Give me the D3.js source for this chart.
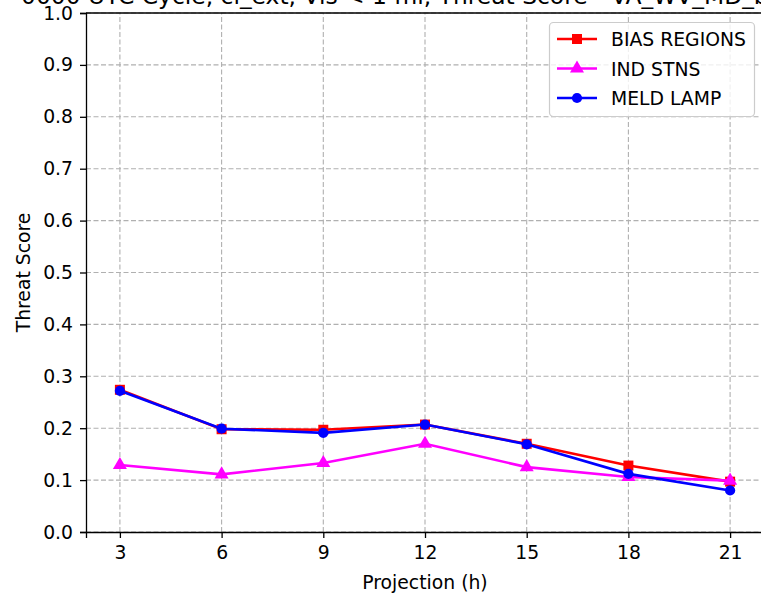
<!DOCTYPE html>
<html>
<head>
<meta charset="utf-8">
<script src="https://cdn.jsdelivr.net/npm/d3@7"></script>
<style>
  body { margin: 0; background: #fff; }
  svg { display: block; font-family: "DejaVu Sans", sans-serif; }
</style>
</head>
<body>
<div id="chart"></div>
<script>
// chart data
var projections = [3, 6, 9, 12, 15, 18, 21];
var biasRegions = [0.274, 0.198, 0.197, 0.207, 0.170, 0.128, 0.097];
var indStns = [0.129, 0.111, 0.133, 0.170, 0.125, 0.106, 0.099];
var meldLamp = [0.272, 0.199, 0.191, 0.207, 0.169, 0.112, 0.080];
var yTicks = [0.0, 0.1, 0.2, 0.3, 0.4, 0.5, 0.6, 0.7, 0.8, 0.9, 1.0];
var seriesNames = ["BIAS REGIONS", "IND STNS", "MELD LAMP"];

var width = 761, height = 593;
var margin = { left: 86, top: 13, right: -3, bottom: 61 };
var fontSize = "18.8px";

var svg = d3.select("#chart").append("svg")
  .attr("width", width)
  .attr("height", height);

var x = d3.scaleLinear().domain([2, 22]).range([margin.left, width - margin.right]);
var y = d3.scaleLinear().domain([0, 1]).range([height - margin.bottom, margin.top]);

// grid
var grid = svg.append("g")
  .attr("stroke", "#b0b0b0")
  .attr("stroke-width", 1.1)
  .attr("stroke-dasharray", "5,2.5");
grid.selectAll(".vg").data(projections).enter().append("line")
  .attr("x1", function (d) { return x(d); }).attr("x2", function (d) { return x(d); })
  .attr("y1", y(0)).attr("y2", y(1));
grid.selectAll(".hg").data(yTicks).enter().append("line")
  .attr("x1", x(2)).attr("x2", x(22))
  .attr("y1", function (d) { return y(d); }).attr("y2", function (d) { return y(d); });

// axes
var xAxis = svg.append("g")
  .attr("transform", "translate(0," + y(0) + ")")
  .call(d3.axisBottom(x).tickValues(projections).tickSize(6).tickPadding(8));
var yAxis = svg.append("g")
  .attr("transform", "translate(" + x(2) + ",0)")
  .call(d3.axisLeft(y).tickValues(yTicks).tickFormat(d3.format(".1f")).tickSize(6).tickPadding(7));

[xAxis, yAxis].forEach(function (a) {
  a.select(".domain").attr("stroke", "#000").attr("stroke-width", 1.3);
  a.selectAll(".tick line").attr("stroke", "#000").attr("stroke-width", 1.3);
  a.selectAll(".tick text").attr("fill", "#000").style("font-size", fontSize)
    .style("font-family", "DejaVu Sans");
});

// top spine
svg.append("line")
  .attr("x1", x(2)).attr("x2", x(22))
  .attr("y1", y(1)).attr("y2", y(1))
  .attr("stroke", "#000").attr("stroke-width", 1.3);

// axis labels
svg.append("text")
  .attr("x", (x(2) + x(22)) / 2)
  .attr("y", 589)
  .attr("text-anchor", "middle")
  .style("font-size", fontSize)
  .text("Projection (h)");

svg.append("text")
  .attr("transform", "translate(30," + y(0.5) + ") rotate(-90)")
  .attr("text-anchor", "middle")
  .style("font-size", fontSize)
  .text("Threat Score");

// title (cut off at top)
svg.append("text")
  .attr("x", 21)
  .attr("y", 4)
  .style("font-size", "23.4px")
  .text("0000 UTC Cycle, ci_ext, Vis < 1 mi, Threat Score - VA_WV_MD_bias");

// series
var series = [
  { name: seriesNames[0], values: biasRegions, color: "#ff0000", marker: d3.symbolSquare, size: 100 },
  { name: seriesNames[1], values: indStns, color: "#ff00ff", marker: d3.symbolTriangle, size: 85 },
  { name: seriesNames[2], values: meldLamp, color: "#0000ff", marker: d3.symbolCircle, size: 82 }
];

var line = d3.line()
  .x(function (d, i) { return x(projections[i]); })
  .y(function (d) { return y(d); });

series.forEach(function (s) {
  svg.append("path")
    .datum(s.values)
    .attr("fill", "none")
    .attr("stroke", s.color)
    .attr("stroke-width", 2.6)
    .attr("d", line);
  svg.selectAll(null).data(s.values).enter().append("path")
    .attr("d", d3.symbol().type(s.marker).size(s.size))
    .attr("fill", s.color)
    .attr("transform", function (d, i) {
      return "translate(" + x(projections[i]) + "," + y(d) + ")";
    });
});

// legend
var legend = svg.append("g");
legend.append("rect")
  .attr("x", 549.5).attr("y", 22.5)
  .attr("width", 205).attr("height", 94)
  .attr("rx", 4)
  .attr("fill", "#fff").attr("fill-opacity", 0.8)
  .attr("stroke", "#cccccc").attr("stroke-width", 1.2);

series.forEach(function (s, i) {
  var ly = 39 + i * 29.5;
  legend.append("line")
    .attr("x1", 557).attr("x2", 597)
    .attr("y1", ly).attr("y2", ly)
    .attr("stroke", s.color).attr("stroke-width", 2.6);
  legend.append("path")
    .attr("d", d3.symbol().type(s.marker).size(s.size))
    .attr("fill", s.color)
    .attr("transform", "translate(577," + ly + ")");
  legend.append("text")
    .attr("x", 611).attr("y", ly + 7)
    .style("font-size", fontSize)
    .text(s.name);
});
</script>
</body>
</html>
